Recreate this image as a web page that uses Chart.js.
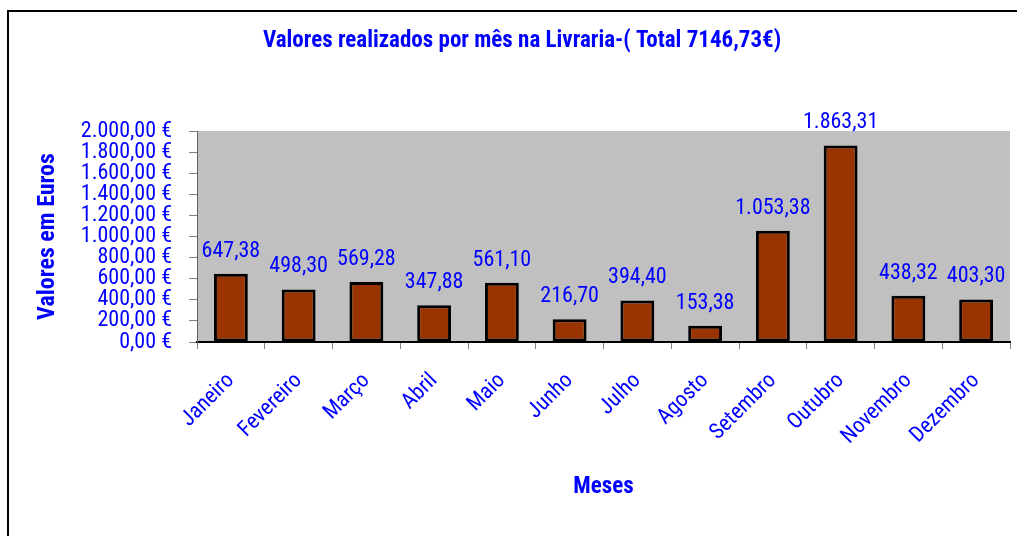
<!DOCTYPE html>
<html lang="pt">
<head>
<meta charset="utf-8">
<title>Valores realizados por mês na Livraria</title>
<script src="https://cdn.jsdelivr.net/npm/chart.js@4.4.1/dist/chart.umd.min.js"></script>
<style>
  html, body { margin: 0; padding: 0; background: #fff; overflow: hidden; }
  canvas { display: block; }
</style>
</head>
<body>
<canvas id="livraria" width="1017" height="536"></canvas>
<script>
'use strict';

// dados
const meses = ['Janeiro', 'Fevereiro', 'Março', 'Abril', 'Maio', 'Junho',
  'Julho', 'Agosto', 'Setembro', 'Outubro', 'Novembro', 'Dezembro'];
const valores = [647.38, 498.30, 569.28, 347.88, 561.10, 216.70,
  394.40, 153.38, 1053.38, 1863.31, 438.32, 403.30];
const tituloGrafico = 'Valores realizados por mês na Livraria-( Total 7146,73€)';
const tituloY = 'Valores em Euros';
const tituloX = 'Meses';
const yMin = 0;
const yMax = 2000;
const yPasso = 200;

// estilo
const FONTE = "'Liberation Sans Narrow', 'Arial Narrow', 'Roboto Condensed', sans-serif";
const AZUL = '#0000ff';
const numFmt = new Intl.NumberFormat('de-DE', { minimumFractionDigits: 2, maximumFractionDigits: 2 });

// moldura (só topo e esquerda) + fundo cinzento da área do gráfico
const fundoPlot = {
  id: 'fundoPlot',
  beforeDraw(chart) {
    const { ctx, chartArea: a, width, height } = chart;
    ctx.save();
    ctx.fillStyle = '#000';
    ctx.fillRect(7, 10, width - 7, 2);
    ctx.fillRect(7, 10, 2, height - 10);
    ctx.fillStyle = '#c0c0c0';
    ctx.fillRect(a.left, a.top, a.right - a.left, a.bottom - a.top);
    ctx.restore();
  }
};

// rótulos de valor por cima das barras
const rotulosBarras = {
  id: 'rotulosBarras',
  afterDatasetsDraw(chart) {
    const ctx = chart.ctx;
    const meta = chart.getDatasetMeta(0);
    ctx.save();
    ctx.font = `22px ${FONTE}`;
    ctx.fillStyle = AZUL;
    ctx.textAlign = 'center';
    ctx.textBaseline = 'alphabetic';
    meta.data.forEach((bar, i) => {
      ctx.fillText(numFmt.format(valores[i]), bar.x, bar.y - 17);
    });
    ctx.restore();
  }
};

new Chart(document.getElementById('livraria').getContext('2d'), {
  type: 'bar',
  data: {
    labels: meses,
    datasets: [{
      data: valores,
      backgroundColor: '#993300',
      borderColor: '#000',
      borderWidth: 3,
      borderSkipped: false,
      barPercentage: 0.5,
      categoryPercentage: 1
    }]
  },
  options: {
    responsive: false,
    animation: false,
    layout: { padding: { left: 34, right: 7, top: 0, bottom: 0 } },
    plugins: {
      legend: { display: false },
      tooltip: { enabled: false },
      title: {
        display: true,
        text: tituloGrafico,
        color: AZUL,
        font: { family: FONTE, size: 23, weight: 'bold' },
        padding: { top: 27, bottom: 76.4 }
      }
    },
    scales: {
      x: {
        afterFit: (s) => { s.height = 194; },
        grid: { drawOnChartArea: false, drawTicks: true, tickLength: 7, color: '#808080' },
        border: { display: true, color: '#000', width: 2 },
        ticks: {
          color: AZUL,
          font: { family: FONTE, size: 22 },
          minRotation: 45,
          maxRotation: 45,
          autoSkip: false,
          padding: 19
        },
        title: {
          display: true,
          text: tituloX,
          color: AZUL,
          font: { family: FONTE, size: 23, weight: 'bold' },
          padding: { top: 0, bottom: 35 }
        }
      },
      y: {
        min: yMin,
        max: yMax,
        afterFit: (s) => { s.width = 163; },
        grid: { drawOnChartArea: false, drawTicks: true, tickLength: 8, color: '#808080' },
        border: { display: true, color: '#606060', width: 1 },
        ticks: {
          stepSize: yPasso,
          autoSkip: false,
          color: AZUL,
          font: { family: FONTE, size: 22 },
          padding: 17,
          callback: (v) => numFmt.format(v) + ' €'
        },
        title: {
          display: true,
          text: tituloY,
          color: AZUL,
          font: { family: FONTE, size: 24, weight: 'bold' },
          padding: { top: 0, bottom: 0 }
        }
      }
    }
  },
  plugins: [fundoPlot, rotulosBarras]
});
</script>
</body>
</html>
